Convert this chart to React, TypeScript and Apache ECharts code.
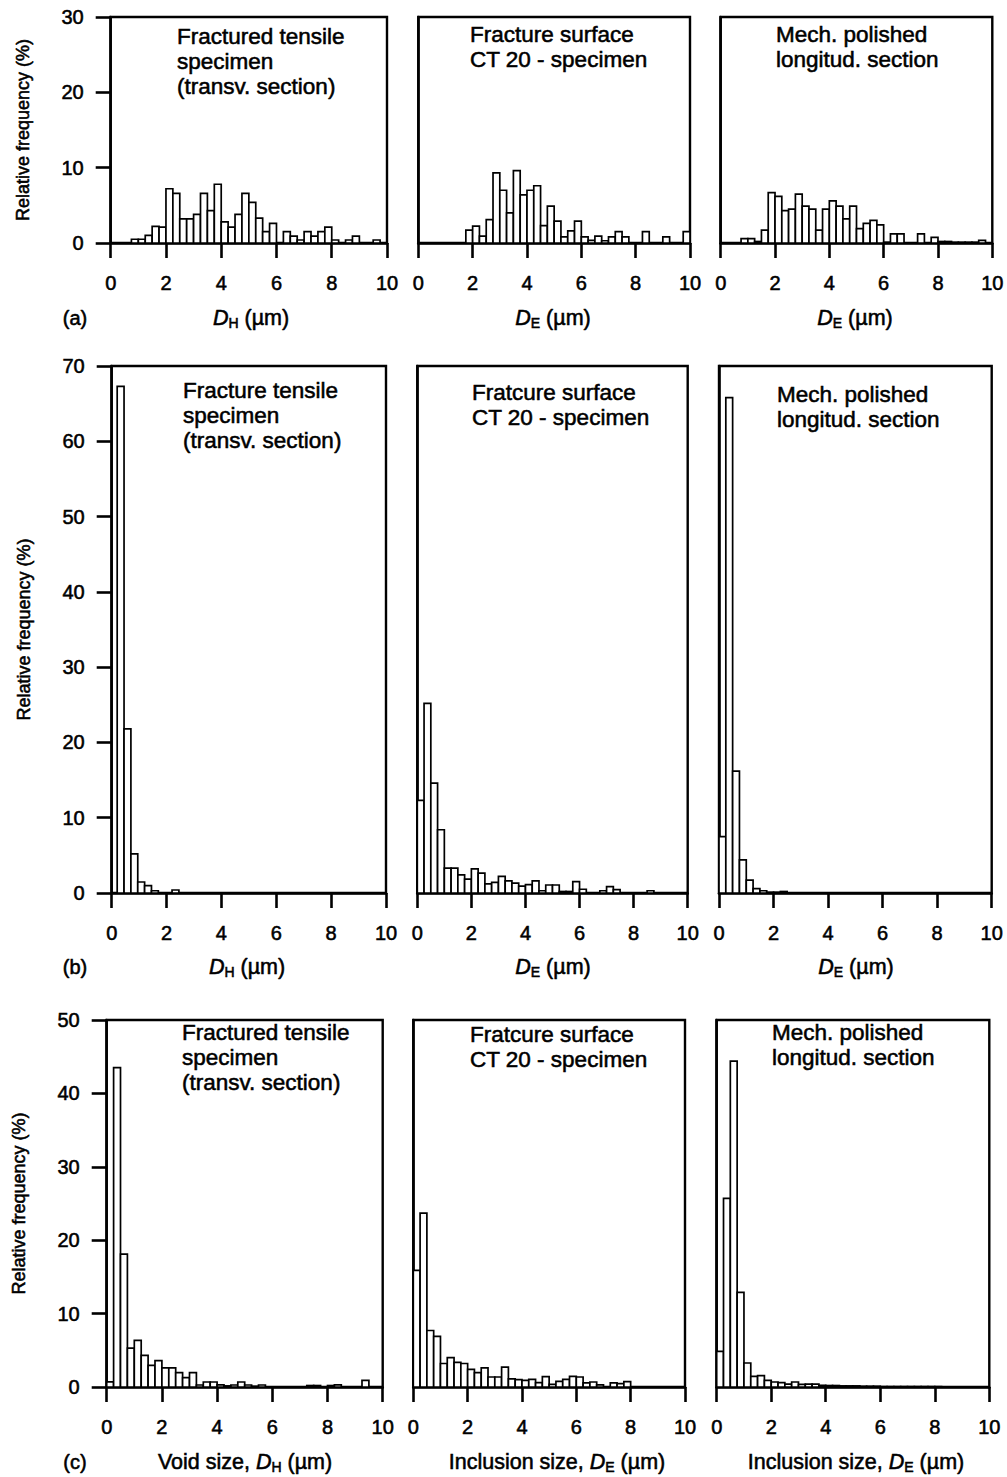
import React, { useEffect, useRef } from "react";
import * as echarts from "echarts";

// ---------- DATA (relative frequency, %, per 0.25 µm bin) ----------
const binWidth = 0.25;
const xMin = 0;
const xMax = 10;
const xInterval = 2;
const yInterval = 10;

// Row (a): bins starting at 0 µm
const aStart = [0, 0, 0];
const aTensileFreq = [0, 0, 0, 0.5, 0.5, 1.0, 2.2, 2.1, 7.2, 6.6, 3.2, 3.2, 3.8, 6.6, 4.3, 7.8, 2.8, 2.1, 3.8, 6.6, 5.4, 3.3, 1.5, 2.6, 0, 1.5, 0.9, 0.4, 1.5, 0.9, 1.5, 2.1, 0.4, 0, 0.4, 0.9, 0, 0, 0.4, 0];
const aFractureFreq = [0, 0, 0, 0, 0, 0, 0, 1.7, 2.25, 0.9, 3.1, 9.3, 7.0, 4.0, 9.6, 6.4, 7.0, 7.6, 2.3, 4.9, 2.9, 0.8, 1.6, 2.9, 0.8, 0.35, 0.9, 0.3, 0.8, 1.5, 0.8, 0, 0, 1.5, 0, 0, 0.8, 0, 0, 1.5];
const aPolishedFreq = [0, 0, 0, 0.57, 0.57, 0.2, 1.7, 6.7, 6.2, 4.3, 4.5, 6.5, 4.9, 4.5, 1.7, 4.5, 5.6, 4.9, 3.2, 4.9, 1.9, 2.6, 3.0, 2.4, 0.1, 1.2, 1.2, 0, 0, 1.2, 0, 0.75, 0.2, 0.2, 0.1, 0.1, 0.1, 0.1, 0.35, 0];
const aYMax = 30;

// Row (b)
const bStart = [0.2, 0, 0];
const bTensileFreq = [67.3, 21.8, 5.2, 1.46, 0.97, 0.3, 0, 0, 0.4];
const bFractureFreq = [12.3, 25.2, 14.6, 8.4, 3.3, 3.3, 2.4, 1.85, 3.2, 2.65, 1.2, 1.4, 2.2, 1.6, 1.3, 0.9, 1.1, 1.6, 0.3, 1.06, 1.06, 0.2, 0.2, 1.5, 0.5, 0, 0, 0.3, 0.85, 0.45, 0, 0, 0, 0, 0.3];
const bPolishedFreq = [7.5, 65.8, 16.2, 4.4, 1.7, 0.57, 0.3, 0.1, 0.1, 0.2];
const bYMax = 70;

// Row (c)
const cStart = [0, 0, 0];
const cVoidFreq = [0.7, 43.5, 18.1, 5.3, 6.35, 4.3, 2.95, 3.6, 2.6, 2.6, 1.95, 1.27, 1.95, 0.27, 0.68, 0.68, 0.3, 0.15, 0.27, 0.68, 0.27, 0.1, 0.27, 0, 0, 0, 0, 0, 0, 0.2, 0.2, 0, 0.2, 0.3, 0, 0, 0, 0.9];
const cInclusionFreq = [15.9, 23.7, 7.7, 6.9, 3.2, 4.0, 3.35, 3.2, 2.4, 1.95, 2.6, 1.36, 1.36, 2.7, 1.1, 1.0, 0.9, 1.05, 0.6, 1.4, 0.36, 0.77, 1.05, 1.45, 1.36, 0.55, 0.68, 0.3, 0, 0.55, 0.45, 0.73];
const cPolishedFreq = [4.85, 25.7, 44.4, 12.9, 3.27, 1.45, 1.54, 0.9, 0.68, 0.6, 0.4, 0.68, 0.36, 0.4, 0.4, 0.23, 0.2, 0.2, 0.15, 0.15, 0.15, 0.1, 0.1, 0.1, 0.05, 0.05, 0.05, 0.05, 0.05, 0.05, 0.05, 0.05, 0.05];
const cYMax = 50;

// ---------- TEXTS ----------
const yAxisName = "Relative frequency (%)";
const rowLabels = ["(a)", "(b)", "(c)"];
const titlesA = [["Fractured tensile", "specimen", "(transv. section)"], ["Fracture surface", "CT 20 - specimen"], ["Mech. polished", "longitud. section"]];
const titlesB = [["Fracture tensile", "specimen", "(transv. section)"], ["Fratcure surface", "CT 20 - specimen"], ["Mech. polished", "longitud. section"]];
const titlesC = [["Fractured tensile", "specimen", "(transv. section)"], ["Fratcure surface", "CT 20 - specimen"], ["Mech. polished", "longitud. section"]];
const namesA = ["{it|D}{sub|H} (µm)", "{it|D}{sub|E} (µm)", "{it|D}{sub|E} (µm)"];
const namesB = ["{it|D}{sub|H} (µm)", "{it|D}{sub|E} (µm)", "{it|D}{sub|E} (µm)"];
const namesC = ["Void size, {it|D}{sub|H} (µm)", "Inclusion size, {it|D}{sub|E} (µm)", "Inclusion size, {it|D}{sub|E} (µm)"];

const FONT = '"Liberation Sans", Arial, Helvetica, sans-serif';
const W = "normal";
const EMB = 0.55; // slight text outline to mimic the medium-weight print face

// ---------- LAYOUT ----------
const rows = [
  {
    top: 17, bottom: 243, yMax: aYMax,
    lefts: [110.7, 418.3, 720.7], rights: [387, 690, 992.3],
    data: [aTensileFreq, aFractureFreq, aPolishedFreq], starts: aStart,
    titles: titlesA, titleX: [177, 470, 776], titleY: [24, 22, 22],
    names: namesA, nameX: [251, 553, 855], nameY: 318, label: rowLabels[0],
  },
  {
    top: 366, bottom: 893, yMax: bYMax,
    lefts: [111.7, 417.3, 719], rights: [386, 687.7, 991.7],
    data: [bTensileFreq, bFractureFreq, bPolishedFreq], starts: bStart,
    titles: titlesB, titleX: [183, 472, 777], titleY: [378, 380, 382],
    names: namesB, nameX: [247, 553, 856], nameY: 967, label: rowLabels[1],
  },
  {
    top: 1020, bottom: 1387, yMax: cYMax,
    lefts: [106.7, 413.3, 716.7], rights: [382.7, 685, 989.3],
    data: [cVoidFreq, cInclusionFreq, cPolishedFreq], starts: cStart,
    titles: titlesC, titleX: [182, 470, 772], titleY: [1020, 1022, 1020],
    names: namesC, nameX: [245, 557, 856], nameY: 1462, label: rowLabels[2],
  },
];

function renderBar(params: any, api: any) {
  const x0 = api.value(0);
  const x1 = api.value(1);
  const y = api.value(2);
  const p0 = api.coord([x0, 0]);
  const p1 = api.coord([x1, y]);
  return {
    type: "rect",
    shape: { x: p0[0], y: p1[1], width: p1[0] - p0[0], height: p0[1] - p1[1] },
    style: { fill: "#fff", stroke: "#000", lineWidth: 1.7 },
  };
}

function buildOption() {
  const grid: any[] = [];
  const xAxis: any[] = [];
  const yAxis: any[] = [];
  const series: any[] = [];
  const graphic: any[] = [];

  const labelStyle = {
    color: "#000",
    fontSize: 20,
    fontWeight: W,
    fontFamily: FONT,
    textBorderColor: "#000",
    textBorderWidth: EMB,
  };

  rows.forEach((row, r) => {
    for (let c = 0; c < 3; c++) {
      const idx = r * 3 + c;
      grid.push({
        left: row.lefts[c],
        top: row.top,
        width: row.rights[c] - row.lefts[c],
        height: row.bottom - row.top,
        show: true,
        borderColor: "#000",
        borderWidth: 2.4,
        backgroundColor: "transparent",
        containLabel: false,
      });
      xAxis.push({
        gridIndex: idx,
        type: "value",
        min: xMin,
        max: xMax,
        interval: xInterval,
        axisLine: { show: true, onZero: false, lineStyle: { color: "#000", width: 2.6 } },
        axisTick: { show: true, inside: false, length: 15, lineStyle: { color: "#000", width: 2.6 } },
        axisLabel: { ...labelStyle, margin: 30 },
        splitLine: { show: false },
      });
      yAxis.push({
        gridIndex: idx,
        type: "value",
        min: 0,
        max: row.yMax,
        interval: yInterval,
        axisLine: { show: true, lineStyle: { color: "#000", width: 2.6 } },
        axisTick: { show: c === 0, inside: false, length: 15, lineStyle: { color: "#000", width: 2.6 } },
        axisLabel: { ...labelStyle, show: c === 0, margin: 27 },
        splitLine: { show: false },
        name: c === 0 ? yAxisName : "",
        nameLocation: "middle",
        nameGap: 79,
        nameTextStyle: { ...labelStyle, fontSize: 18 },
      });
      const start = row.starts[c];
      const values = row.data[c];
      series.push({
        type: "custom",
        xAxisIndex: idx,
        yAxisIndex: idx,
        renderItem: renderBar,
        encode: { x: [0, 1], y: 2 },
        data: values
          .map((v, i) => [start + i * binWidth, start + (i + 1) * binWidth, v])
          .filter((d) => d[2] > 0),
        silent: true,
      });
      graphic.push({
        type: "text",
        x: row.titleX[c],
        y: row.titleY[c],
        style: {
          text: row.titles[c].join("\n"),
          fill: "#000",
          stroke: "#000",
          lineWidth: EMB,
          fontSize: 22.5,
          fontWeight: W,
          fontFamily: FONT,
          lineHeight: 25,
          align: "left",
          verticalAlign: "top",
        },
      });
      graphic.push({
        type: "text",
        x: row.nameX[c],
        y: row.nameY,
        style: {
          text: row.names[c],
          fill: "#000",
          stroke: "#000",
          lineWidth: EMB,
          fontSize: 21.5,
          fontWeight: W,
          fontFamily: FONT,
          lineHeight: 24,
          align: "center",
          verticalAlign: "middle",
          rich: {
            it: { fontStyle: "italic", fontWeight: W, fontSize: 21.5, fontFamily: FONT, lineHeight: 24, fill: "#000", stroke: "#000", lineWidth: EMB },
            sub: { fontSize: 14, fontWeight: W, fontFamily: FONT, lineHeight: 24, verticalAlign: "bottom", fill: "#000", stroke: "#000", lineWidth: EMB },
          },
        },
      });
    }
    graphic.push({
      type: "text",
      x: 75,
      y: row.nameY,
      style: {
        text: row.label,
        fill: "#000",
        stroke: "#000",
        lineWidth: EMB,
        fontSize: 20,
        fontWeight: W,
        fontFamily: FONT,
        align: "center",
        verticalAlign: "middle",
      },
    });
  });

  return {
    animation: false,
    backgroundColor: "#fff",
    grid,
    xAxis,
    yAxis,
    series,
    graphic,
  };
}

export default function App() {
  const ref = useRef<HTMLDivElement>(null);
  useEffect(() => {
    if (!ref.current) return;
    const chart = echarts.init(ref.current, undefined, { renderer: "svg" });
    chart.setOption(buildOption() as any);
    return () => chart.dispose();
  }, []);
  return (
    <div
      ref={ref}
      style={{ position: "absolute", left: 0, top: 0, width: 1007, height: 1477, background: "#fff" }}
    />
  );
}
